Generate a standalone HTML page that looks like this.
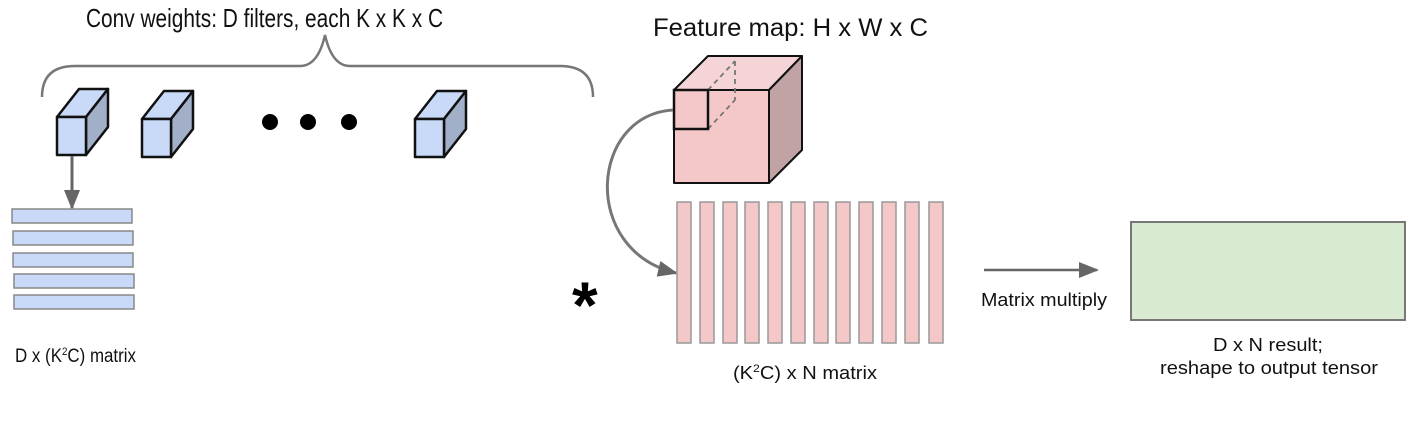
<!DOCTYPE html>
<html><head><style>
html,body{margin:0;padding:0;background:#fff;}
body{width:1425px;height:437px;overflow:hidden;}
text{font-family:"Liberation Sans",sans-serif;fill:#111;}
</style></head><body>
<svg width="1425" height="437" viewBox="0 0 1425 437" xmlns="http://www.w3.org/2000/svg">
<defs>
<marker id="ah" markerWidth="20" markerHeight="16" refX="18" refY="8" orient="auto" markerUnits="userSpaceOnUse"><path d="M0,0 L20,8 L0,16 Z" fill="#666"/></marker>
</defs>
<text x="86" y="27" font-size="26" textLength="357" lengthAdjust="spacingAndGlyphs">Conv weights: D filters, each K x K x C</text>
<path d="M42,97 Q42,66 75,66 L300,66 Q318,66 325,35 Q332,66 350,66 L560,66 Q593,66 593,97" fill="none" stroke="#777" stroke-width="2.5"/>
<g stroke="#111" stroke-width="2.5" stroke-linejoin="round">
<g><polygon points="57,117 79,89 108,89 86,117" fill="#c9daf8"/><polygon points="86,117 108,89 108,127 86,155" fill="#a1b0c8"/><rect x="57" y="117" width="29" height="38" fill="#c9daf8"/></g>
<g transform="translate(85,2)"><polygon points="57,117 79,89 108,89 86,117" fill="#c9daf8"/><polygon points="86,117 108,89 108,127 86,155" fill="#a1b0c8"/><rect x="57" y="117" width="29" height="38" fill="#c9daf8"/></g>
<g transform="translate(358,2)"><polygon points="57,117 79,89 108,89 86,117" fill="#c9daf8"/><polygon points="86,117 108,89 108,127 86,155" fill="#a1b0c8"/><rect x="57" y="117" width="29" height="38" fill="#c9daf8"/></g>
</g>
<circle cx="270" cy="122" r="8" fill="#000"/><circle cx="308" cy="122" r="8" fill="#000"/><circle cx="349" cy="122" r="8" fill="#000"/>
<line x1="72" y1="156" x2="72" y2="208" stroke="#666" stroke-width="3" marker-end="url(#ah)"/>
<g fill="#c9daf8" stroke="#888" stroke-width="1.5">
<rect x="12" y="209" width="120" height="14"/><rect x="13" y="231" width="120" height="14"/><rect x="13" y="253" width="120" height="14"/><rect x="14" y="274" width="120" height="14"/><rect x="14" y="295" width="120" height="14"/>
</g>
<text x="15" y="362" font-size="19" textLength="121" lengthAdjust="spacingAndGlyphs">D x (K<tspan font-size="11" dy="-7">2</tspan><tspan dy="7">C) matrix</tspan></text>
<text x="572" y="328" font-size="66" font-weight="bold" style="fill:#000">*</text>
<text x="653" y="36" font-size="25" textLength="275" lengthAdjust="spacingAndGlyphs">Feature map: H x W x C</text>
<g stroke="#111" stroke-width="2" stroke-linejoin="round">
<polygon points="674,90 708,56 802,56 769,90" fill="#f4d4d6"/>
<polygon points="769,90 802,56 802,150 769,183" fill="#c1a3a5"/>
<rect x="674" y="90" width="95" height="93" fill="#f4c7c9"/>
</g>
<g stroke="#777" stroke-width="1.8" stroke-dasharray="5,4" fill="none">
<line x1="708" y1="90" x2="735" y2="61"/><line x1="735" y1="61" x2="735" y2="100"/><line x1="708" y1="129" x2="735" y2="100"/>
</g>
<rect x="674" y="90" width="34" height="39" fill="none" stroke="#111" stroke-width="2.5"/>
<path d="M673,110 C590,115 580,250 676,273" fill="none" stroke="#777" stroke-width="3" marker-end="url(#ah)"/>
<g fill="#f4c7c9" stroke="#999" stroke-width="1.5">
<rect x="677" y="202" width="14" height="141"/><rect x="700" y="202" width="14" height="141"/><rect x="723" y="202" width="14" height="141"/><rect x="745" y="202" width="14" height="141"/><rect x="768" y="202" width="14" height="141"/><rect x="791" y="202" width="14" height="141"/><rect x="814" y="202" width="14" height="141"/><rect x="836" y="202" width="14" height="141"/><rect x="859" y="202" width="14" height="141"/><rect x="882" y="202" width="14" height="141"/><rect x="905" y="202" width="14" height="141"/><rect x="929" y="202" width="14" height="141"/>
</g>
<text x="733" y="379" font-size="18" textLength="144" lengthAdjust="spacingAndGlyphs">(K<tspan font-size="11" dy="-7">2</tspan><tspan dy="7">C) x N matrix</tspan></text>
<line x1="984" y1="270" x2="1097" y2="270" stroke="#666" stroke-width="2.5" marker-end="url(#ah)"/>
<text x="981" y="306" font-size="18" textLength="126" lengthAdjust="spacingAndGlyphs">Matrix multiply</text>
<rect x="1131" y="222" width="274" height="98" fill="#d9ead3" stroke="#777" stroke-width="2"/>
<text x="1213" y="351" font-size="18" textLength="110" lengthAdjust="spacingAndGlyphs">D x N result;</text>
<text x="1160" y="374" font-size="18" textLength="218" lengthAdjust="spacingAndGlyphs">reshape to output tensor</text>
</svg>
</body></html>
